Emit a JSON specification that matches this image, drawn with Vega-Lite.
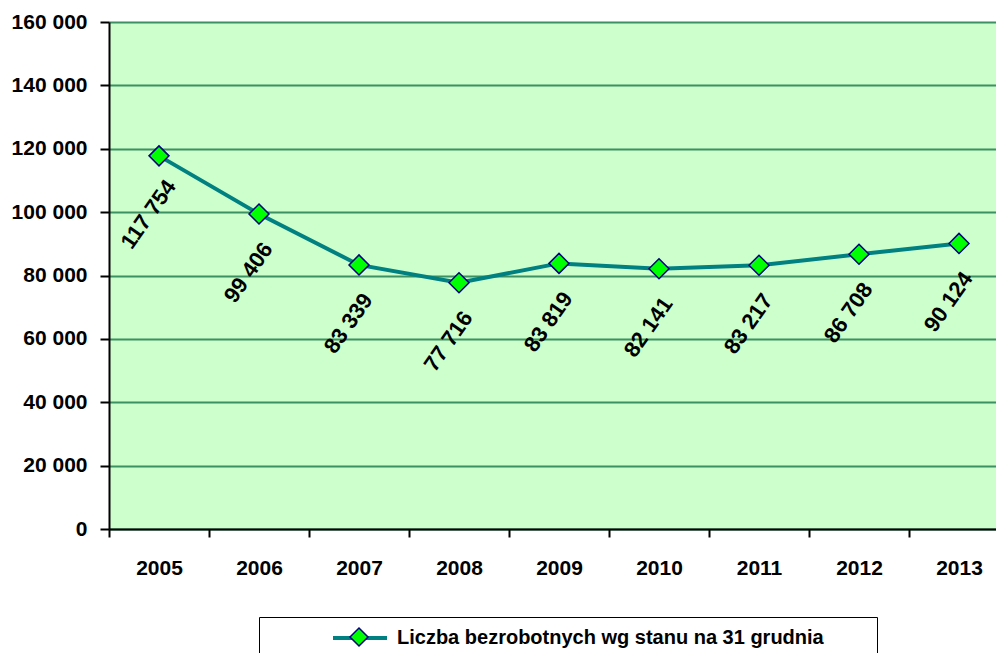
{
  "$schema": "https://vega.github.io/schema/vega-lite/v6.json",
  "width": 900,
  "height": 507,
  "autosize": {"type": "none"},
  "padding": {"left": 109, "top": 22, "right": 0, "bottom": 124},
  "background": "white",
  "config": {
    "view": {"fill": "#CCFFCC", "stroke": null},
    "locale": {"number": {"decimal": ",", "thousands": " ", "grouping": [3], "currency": ["", ""]}}
  },
  "data": {
    "values": [
      {"year": "2005", "value": 117754, "series": "Liczba bezrobotnych wg stanu na 31 grudnia", "marker": "Liczba bezrobotnych wg stanu na 31 grudnia"},
      {"year": "2006", "value": 99406, "series": "Liczba bezrobotnych wg stanu na 31 grudnia", "marker": "Liczba bezrobotnych wg stanu na 31 grudnia"},
      {"year": "2007", "value": 83339, "series": "Liczba bezrobotnych wg stanu na 31 grudnia", "marker": "Liczba bezrobotnych wg stanu na 31 grudnia"},
      {"year": "2008", "value": 77716, "series": "Liczba bezrobotnych wg stanu na 31 grudnia", "marker": "Liczba bezrobotnych wg stanu na 31 grudnia"},
      {"year": "2009", "value": 83819, "series": "Liczba bezrobotnych wg stanu na 31 grudnia", "marker": "Liczba bezrobotnych wg stanu na 31 grudnia"},
      {"year": "2010", "value": 82141, "series": "Liczba bezrobotnych wg stanu na 31 grudnia", "marker": "Liczba bezrobotnych wg stanu na 31 grudnia"},
      {"year": "2011", "value": 83217, "series": "Liczba bezrobotnych wg stanu na 31 grudnia", "marker": "Liczba bezrobotnych wg stanu na 31 grudnia"},
      {"year": "2012", "value": 86708, "series": "Liczba bezrobotnych wg stanu na 31 grudnia", "marker": "Liczba bezrobotnych wg stanu na 31 grudnia"},
      {"year": "2013", "value": 90124, "series": "Liczba bezrobotnych wg stanu na 31 grudnia", "marker": "Liczba bezrobotnych wg stanu na 31 grudnia"}
    ]
  },
  "encoding": {
    "x": {
      "field": "year", "type": "ordinal",
      "scale": {"paddingInner": 0, "paddingOuter": 0},
      "axis": {
        "title": null, "labelAngle": 0, "labelFont": "Liberation Sans", "labelFontWeight": "bold",
        "labelFontSize": 21, "labelColor": "black", "labelPadding": 20,
        "tickBand": "extent", "tickSize": 8, "tickColor": "black", "tickWidth": 2,
        "domainColor": "black", "domainWidth": 2, "grid": false, "zindex": 1
      }
    },
    "y": {
      "field": "value", "type": "quantitative",
      "scale": {"domain": [0, 160000], "nice": false},
      "axis": {
        "title": null, "values": [0, 20000, 40000, 60000, 80000, 100000, 120000, 140000, 160000],
        "labelExpr": "format(datum.value, ',')", "labelFont": "Liberation Sans", "labelFontWeight": "bold", "labelFontSize": 21,
        "labelColor": "black", "labelPadding": 13, "tickSize": 9, "tickColor": "black", "tickWidth": 2,
        "domainColor": "black", "domainWidth": 2, "gridColor": "#3D9061", "gridWidth": 2, "gridOpacity": 1
      }
    }
  },
  "layer": [
    {
      "mark": {"type": "line", "strokeWidth": 4},
      "encoding": {
        "color": {
          "field": "series", "type": "nominal",
          "scale": {"range": ["#008080"]},
          "legend": {
            "orient": "none", "legendX": 150, "legendY": 595,
            "title": "MMM", "titleOrient": "left", "titleOpacity": 0, "titleFontSize": 20,
            "titleFont": "Liberation Sans", "titleFontWeight": "bold", "titlePadding": 30,
            "padding": 10,
            "symbolType": "M-3,0H3", "symbolSize": 324, "symbolStrokeWidth": 4,
            "labelFont": "Liberation Sans", "labelFontWeight": "bold", "labelFontSize": 20,
            "labelColor": "black", "labelOffset": 26, "labelLimit": 800
          }
        }
      }
    },
    {
      "mark": {"type": "point", "shape": "diamond", "filled": true, "size": 400, "stroke": "#000080", "strokeWidth": 1.5, "opacity": 1},
      "encoding": {
        "fill": {
          "field": "marker", "type": "nominal",
          "scale": {"range": ["#00FF00"]},
          "legend": {
            "orient": "none", "legendX": 150, "legendY": 595, "zindex": 2,
            "title": "MMM", "titleOrient": "left", "titleOpacity": 0, "titleFontSize": 20,
            "titleFont": "Liberation Sans", "titleFontWeight": "bold", "titlePadding": 30,
            "padding": 10, "strokeColor": "black",
            "encode": {"legend": {"update": {"strokeWidth": {"value": 2}}}},
            "symbolType": "diamond", "symbolSize": 324, "symbolStrokeColor": "#000080", "symbolStrokeWidth": 1.5,
            "labelFont": "Liberation Sans", "labelFontWeight": "bold", "labelFontSize": 20,
            "labelOpacity": 0, "labelOffset": 26, "labelLimit": 800,
            "labelExpr": "datum.label + 'xxxx'"
          }
        }
      }
    },
    {
      "mark": {"type": "text", "angle": -55, "dx": -54, "dy": 25, "align": "center", "baseline": "middle",
               "fontSize": 22, "fontWeight": "bold", "font": "Liberation Sans", "color": "black"},
      "encoding": {
        "text": {"field": "value", "type": "quantitative", "format": ","}
      }
    }
  ]
}
